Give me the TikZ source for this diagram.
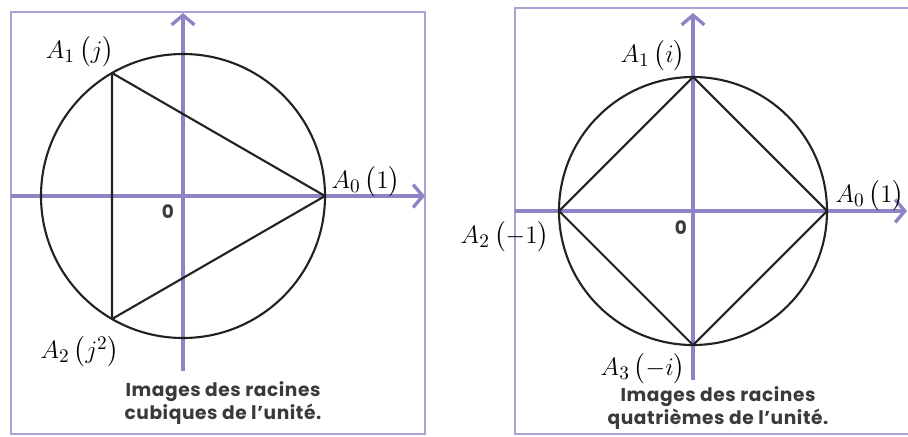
\documentclass[tikz,border=0pt]{standalone}
\usepackage{amsmath}
\usepackage{fontspec}
\newfontfamily\capfont{Poppins}[LetterSpace=3]
\usetikzlibrary{arrows.meta}
\definecolor{framecol}{HTML}{A6A4D6}
\definecolor{axiscol}{HTML}{8C84C4}
\definecolor{inkcol}{HTML}{222222}
\definecolor{capcol}{HTML}{3A3A3A}
\tikzset{
  frame/.style={draw=framecol, line width=1.1pt},
  axis/.style={draw=axiscol, line width=1.9pt, -{Straight Barb[length=5.5pt, width=13pt, line width=1.9pt]}},
  unitcircle/.style={draw=inkcol, line width=1.2pt},
  polygon/.style={draw=inkcol, line width=1.2pt, line join=round},
  vlabel/.style={font=\fontsize{15}{18}\selectfont, inner sep=0pt},
  origin/.style={font=\capfont\bfseries\fontsize{10.5}{12}\selectfont, text=capcol, inner sep=0pt},
  caption/.style={font=\capfont\bfseries\fontsize{10.6}{13.6}\selectfont, text=capcol, align=center, inner sep=0pt}
}

\begin{document}
\begin{tikzpicture}[x=0.02cm, y=-0.02cm]
\useasboundingbox (0,0) rectangle (908,436);
% cube roots
\draw[frame] (11,12) rectangle (425,434);
\coordinate (O1) at (183,196);
\draw[axis] (11,196) -- (425,196);
\draw[axis] (183,371) -- (183,13);
\draw[unitcircle] (O1) circle[radius=142];
\coordinate (c0) at (325,196);
\coordinate (c1) at (112,73);
\coordinate (c2) at (112,319);
\draw[polygon] (c0) -- (c1) -- (c2) -- cycle;
\node[vlabel] (lc0) at (366,182) {$A_0\,\bigl(1\bigr)$};
\node[vlabel] (lc1) at (80,52) {$A_1\,\bigl(j\bigr)$};
\node[vlabel] (lc2) at (80,352) {$A_2\,\bigl(j^2\bigr)$};
\node[origin] (z1) at (168,212) {0};
\node[caption] (cap1) at (223,403) {Images des racines\\cubiques de l’unité.};
% fourth roots
\draw[frame] (909,8) -- (515,8) -- (515,434) -- (909,434);
\coordinate (O2) at (693,211);
\draw[axis] (515,211) -- (907,211);
\draw[axis] (693,380) -- (693,13);
\draw[unitcircle] (O2) circle[radius=134];
\coordinate (q0) at (827,211);
\coordinate (q1) at (693,77);
\coordinate (q2) at (559,211);
\coordinate (q3) at (693,345);
\draw[polygon] (q0) -- (q1) -- (q2) -- (q3) -- cycle;
\node[vlabel] (lq0) at (870,196) {$A_0\,\bigl(1\bigr)$};
\node[vlabel] (lq1) at (653,56) {$A_1\,\bigl(i\bigr)$};
\node[vlabel] (lq2) at (505,237) {$A_2\,\bigl(-1\bigr)$};
\node[vlabel] (lq3) at (643,369) {$A_3\,\bigl(-i\bigr)$};
\node[origin] (z2) at (681,228) {0};
\node[caption] (cap2) at (718,408) {Images des racines\\quatrièmes de l’unité.};
\end{tikzpicture}
\end{document}
